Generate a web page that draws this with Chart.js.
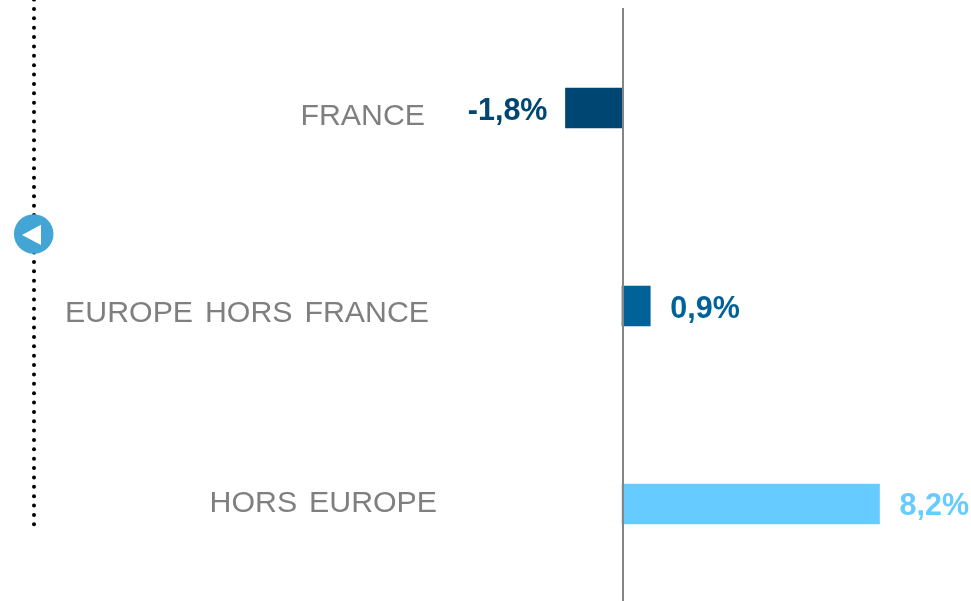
<!DOCTYPE html>
<html><head><meta charset="utf-8">
<style>html,body{margin:0;padding:0;background:#fff}canvas{display:block}</style>
<script src="https://cdn.jsdelivr.net/npm/chart.js@4"></script></head>
<body><canvas id="c" width="971" height="601" style="width:971px;height:601px"></canvas>
<script>
const categories = ["FRANCE", "EUROPE HORS FRANCE", "HORS EUROPE"];
const positions = [0, 1, 2];
const values = [-1.8, 0.9, 8.2];
const valueLabels = ["-1,8%", "0,9%", "8,2%"];
const barColors = ["#004672", "#006299", "#66CCFF"];
const labelRightEdges = [425, 429, 437];
const FONT = '"Liberation Sans", Arial, sans-serif';
const pxPerUnit = 31.4, zeroX = 622;
const rowHeight = 198, firstRow = 108;

const overlay = {
  id: 'overlay',
  afterDraw(chart) {
    const ctx = chart.ctx, x = chart.scales.x;
    ctx.save();
    // zero axis
    ctx.strokeStyle = '#858585'; ctx.lineWidth = 2;
    ctx.beginPath(); ctx.moveTo(x.getPixelForValue(0) + 1, 8); ctx.lineTo(x.getPixelForValue(0) + 1, 601); ctx.stroke();
    // dotted rule
    ctx.fillStyle = '#000';
    for (let py = -0.4; py < 527; py += 9.37) { ctx.beginPath(); ctx.arc(34, py, 2, 0, Math.PI*2); ctx.fill(); }
    // back marker
    ctx.fillStyle = '#42A5D5';
    ctx.beginPath(); ctx.arc(33.7, 234, 19.8, 0, Math.PI*2); ctx.fill();
    ctx.fillStyle = '#fff';
    ctx.beginPath(); ctx.moveTo(22, 235); ctx.lineTo(41, 224.7); ctx.lineTo(41, 245); ctx.closePath(); ctx.fill();
    // category labels
    ctx.textBaseline = 'alphabetic'; ctx.textAlign = 'right';
    ctx.font = '30.3px ' + FONT; ctx.fillStyle = '#7f7f7f';
    ctx.wordSpacing = '3.5px';
    const catBase = [124.5, 321.5, 512.3];
    categories.forEach((c, i) => ctx.fillText(c, labelRightEdges[i], catBase[i]));
    ctx.wordSpacing = '0px';
    // value labels
    ctx.font = 'bold 30.5px ' + FONT;
    const valBase = [120, 318, 515];
    values.forEach((v, i) => {
      ctx.fillStyle = barColors[i];
      const px = x.getPixelForValue(v);
      ctx.textAlign = v < 0 ? 'right' : 'left';
      ctx.fillText(valueLabels[i], v < 0 ? px - 18 : px + 20, valBase[i]);
    });
    ctx.restore();
  }
};

new Chart(document.getElementById('c'), {
  type: 'bar',
  data: { datasets: [{ data: values.map((v, i) => ({ x: v, y: positions[i] })), backgroundColor: barColors, barThickness: 40, borderWidth: 0 }] },
  options: {
    indexAxis: 'y', responsive: false, animation: false,
    layout: { padding: 0 },
    plugins: { legend: { display: false }, tooltip: { enabled: false } },
    scales: {
      x: { type: 'linear', display: false, min: -zeroX / pxPerUnit, max: (971 - zeroX) / pxPerUnit },
      y: { type: 'linear', display: false, reverse: true, offset: false, min: -firstRow / rowHeight, max: (601 - firstRow) / rowHeight }
    }
  },
  plugins: [overlay]
});
</script></body></html>
